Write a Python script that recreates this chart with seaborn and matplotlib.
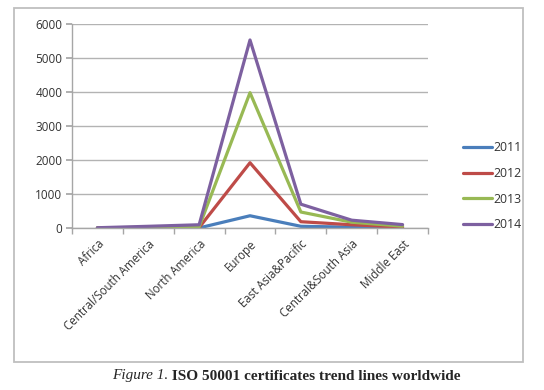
import pandas as pd
import matplotlib
matplotlib.use("Agg")
import matplotlib.pyplot as plt
import matplotlib.patches as mpatches
from matplotlib.ticker import FixedLocator
import seaborn as sns

# ── Data ───────────────────────────────────────────────────────────────────
REGIONS = ["Africa", "Central/South America", "North America", "Europe",
           "East Asia&Pacific", "Central&South Asia", "Middle East"]
Y2011 = [2, 5, 3, 360, 50, 25, 15]
Y2012 = [4, 10, 12, 1920, 185, 95, 25]
Y2013 = [5, 20, 35, 3980, 470, 170, 55]
Y2014 = [8, 50, 95, 5530, 700, 230, 100]
YEARS = ["2011", "2012", "2013", "2014"]
COLORS = ["#4A7EBB", "#BE4B48", "#98B954", "#7D60A0"]

rows = []
for yr, vals in zip(YEARS, [Y2011, Y2012, Y2013, Y2014]):
    for reg, v in zip(REGIONS, vals):
        rows.append({"Region": reg, "Year": yr, "Certificates": v})
df = pd.DataFrame(rows)

# ── Plot ───────────────────────────────────────────────────────────────────
sns.set_theme(style="white")
plt.rcParams["font.family"] = ["Open Sans", "DejaVu Sans"]

fig = plt.figure(figsize=(5.44, 3.90), dpi=100)
ax = fig.add_axes([72 / 544, 1 - 228 / 390, (428 - 72) / 544, (228 - 24) / 390])

sns.lineplot(data=df, x="Region", y="Certificates", hue="Year",
             palette=COLORS, lw=2.3, sort=False, ax=ax, legend=True)

ax.set_xlim(-0.5, len(REGIONS) - 0.5)
ax.set_ylim(0, 6000)
ax.set_yticks(range(0, 6001, 1000))
ax.yaxis.grid(True, color="#B3B3B3", lw=1.0)
ax.set_axisbelow(True)
ax.set_xlabel("")
ax.set_ylabel("")

for side in ["top", "right"]:
    ax.spines[side].set_visible(False)
for side in ["left", "bottom"]:
    ax.spines[side].set_color("#A6A6A6")
    ax.spines[side].set_linewidth(1.0)

ax.set_xticks(range(len(REGIONS)))
ax.set_xticklabels(REGIONS, rotation=45, ha="right", rotation_mode="anchor",
                   fontsize=8.3, color="#333333")
ax.xaxis.set_minor_locator(FixedLocator([i - 0.5 for i in range(len(REGIONS) + 1)]))
ax.tick_params(axis="x", which="major", length=0, pad=7)
ax.tick_params(axis="x", which="minor", length=4, color="#A6A6A6", direction="out",
               bottom=True)
ax.tick_params(axis="y", length=4, color="#A6A6A6", direction="out", left=True,
               labelsize=8.5, labelcolor="#333333", pad=3)

handles, labels = ax.get_legend_handles_labels()
ax.legend_.remove()
fig.legend(handles, labels, loc="upper left", bbox_to_anchor=(452 / 544, 1 - 130 / 390),
           frameon=False, fontsize=8.8, labelspacing=1.05, handlelength=2.4,
           handletextpad=0.1, labelcolor="#333333")

# outer chart frame
frame = mpatches.Rectangle((14 / 544, 1 - 362 / 390), (523 - 14) / 544, (362 - 8) / 390,
                           transform=fig.transFigure, fill=False,
                           edgecolor="#BFBFBF", lw=1.3)
fig.patches.append(frame)

# caption
fig.canvas.draw()
r = fig.canvas.get_renderer()
t1 = fig.text(0, 1 - 376 / 390, "Figure 1.", family="Liberation Serif", style="italic",
              fontsize=11, va="center", ha="left")
t2 = fig.text(0, 1 - 376 / 390, " ISO 50001 certificates trend lines worldwide",
              family="Liberation Serif", weight="bold", fontsize=11,
              va="center", ha="left")
w1 = t1.get_window_extent(r).width
w2 = t2.get_window_extent(r).width
x0 = (573 - (w1 + w2)) / 2 / 544
t1.set_x(x0)
t2.set_x(x0 + w1 / 544)

fig.savefig("out.png", dpi=100)
